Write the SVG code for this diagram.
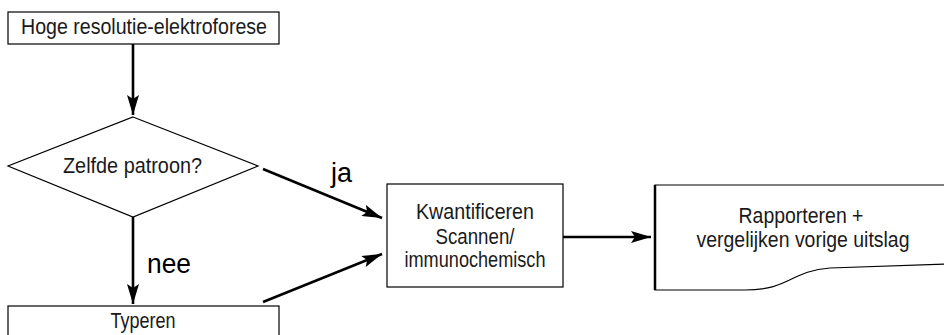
<svg xmlns="http://www.w3.org/2000/svg" width="944" height="335" viewBox="0 0 944 335">
<style>
.box{fill:#fff;stroke:#000;stroke-width:1.2}
.t{font-family:"Liberation Sans",Arial,sans-serif;font-size:21.5px;fill:#1a1a1a;text-anchor:middle}
.lbl{font-family:"Liberation Sans",Arial,sans-serif;font-size:27px;fill:#000}
.c{stroke:#000;stroke-width:2.6;fill:none;marker-end:url(#ah)}
</style>
<defs>
<marker id="ah" viewBox="0 0 20 12" refX="20" refY="6" markerWidth="20" markerHeight="12" markerUnits="userSpaceOnUse" orient="auto">
<path d="M0,0 L20,6 L0,12 L4,6 Z" fill="#000"/>
</marker>
</defs>
<g id="connectors">
<line class="c" x1="133" y1="44" x2="133" y2="115"/>
<line class="c" x1="263" y1="169" x2="382" y2="218"/>
<line class="c" x1="133" y1="217" x2="133" y2="304"/>
<line class="c" x1="263" y1="302" x2="382" y2="254"/>
<line class="c" x1="563" y1="237" x2="651" y2="237"/>
</g>
<g id="n1">
<rect class="box" x="8" y="12" width="271" height="32"/>
<text class="t" x="144" y="33.5" textLength="246" lengthAdjust="spacingAndGlyphs">Hoge resolutie-elektroforese</text>
</g>
<g id="n2">
<polygon class="box" points="133,117 258,166 133,217 8,166"/>
<text class="t" x="132.5" y="173" textLength="139" lengthAdjust="spacingAndGlyphs">Zelfde patroon?</text>
</g>
<g id="n3">
<rect class="box" x="8" y="306" width="271" height="40"/>
<text class="t" x="143" y="328" textLength="65" lengthAdjust="spacingAndGlyphs">Typeren</text>
</g>
<g id="n4">
<rect class="box" x="387" y="184" width="176" height="103"/>
<text class="t" x="475" y="219" textLength="118" lengthAdjust="spacingAndGlyphs">Kwantificeren</text>
<text class="t" x="475" y="244" textLength="79" lengthAdjust="spacingAndGlyphs">Scannen/</text>
<text class="t" x="475" y="267" textLength="141" lengthAdjust="spacingAndGlyphs">immunochemisch</text>
</g>
<g id="n5">
<path d="M950,185 H655 V290 H745 C790,290 790,271 830,268 L950,264" fill="#fff" stroke="#000" stroke-width="1.2"/>
<line x1="655" y1="185" x2="655" y2="290" stroke="#000" stroke-width="2.5"/>
<text class="t" x="801" y="223" textLength="125" lengthAdjust="spacingAndGlyphs">Rapporteren +</text>
<text class="t" x="803" y="247" textLength="213" lengthAdjust="spacingAndGlyphs">vergelijken vorige uitslag</text>
</g>
<g id="labels">
<text class="lbl" x="331" y="182">ja</text>
<text class="lbl" x="147" y="273" textLength="44" lengthAdjust="spacingAndGlyphs">nee</text>
</g>
</svg>
